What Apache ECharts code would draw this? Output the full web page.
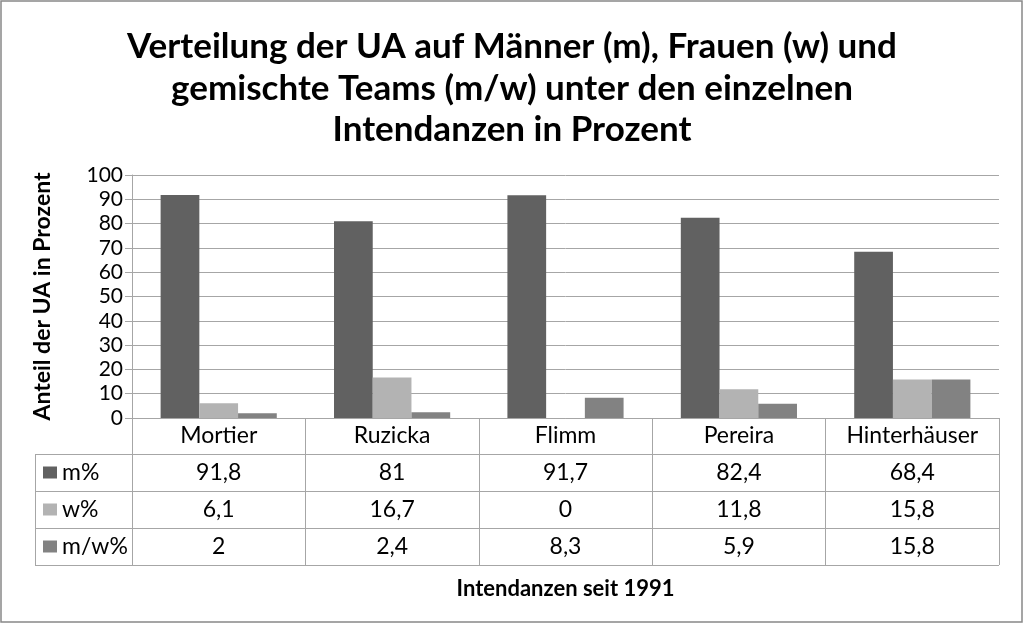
<!DOCTYPE html>
<html>
<head>
<meta charset="utf-8">
<script src="https://cdn.jsdelivr.net/npm/echarts@6/dist/echarts.min.js"></script>
<style>
  html, body { margin: 0; padding: 0; background: #fff; }
  #main { width: 1024px; height: 624px; }
</style>
</head>
<body>
<div id="main"></div>
<script>
// Daten aus der Vorlage
var categories = ['Mortier', 'Ruzicka', 'Flimm', 'Pereira', 'Hinterhäuser'];
var seriesNames = ['m%', 'w%', 'm/w%'];
var mValues = [91.8, 81, 91.7, 82.4, 68.4];
var wValues = [6.1, 16.7, 0, 11.8, 15.8];
var mwValues = [2, 2.4, 8.3, 5.9, 15.8];
var yTicks = { min: 0, max: 100, interval: 10 };

var colors = ['#616161', '#b3b3b3', '#828282'];
var lineColor = '#a6a6a6';
var font = 'Lato';
var rowH = 37;
var tableLeft = 35;

var myChart = echarts.init(document.getElementById('main'));

var allValues = [mValues, wValues, mwValues];

var option = {
    animation: false,
    textStyle: { fontFamily: font, color: '#000' },
    title: {
        text: 'Verteilung der UA auf Männer (m), Frauen (w) und\ngemischte Teams (m/w) unter den einzelnen\nIntendanzen in Prozent',
        left: 'center',
        top: 21,
        textStyle: { fontFamily: font, fontSize: 35, fontWeight: 'bold', lineHeight: 41.5, color: '#000' }
    },
    grid: { left: 132, right: 25, top: 175, bottom: 206 },
    xAxis: {
        type: 'category',
        data: categories,
        axisLine: { lineStyle: { color: lineColor } },
        axisTick: { show: true, length: 4 * rowH - 1, lineStyle: { color: lineColor } },
        axisLabel: { fontSize: 23, color: '#000', margin: 0, lineHeight: 36, fontFamily: font },
        name: 'Intendanzen seit 1991',
        nameLocation: 'middle',
        nameGap: 160,
        nameTextStyle: { fontSize: 22, fontWeight: 'bold', color: '#000', fontFamily: font }
    },
    yAxis: {
        type: 'value',
        min: yTicks.min,
        max: yTicks.max,
        interval: yTicks.interval,
        axisLine: { show: true, lineStyle: { color: lineColor } },
        axisTick: { show: true, length: 7, lineStyle: { color: lineColor } },
        splitLine: { lineStyle: { color: lineColor } },
        axisLabel: { fontSize: 21, color: '#000', margin: 9, fontFamily: font },
        name: 'Anteil der UA in Prozent',
        nameLocation: 'middle',
        nameGap: 78,
        nameTextStyle: { fontSize: 23, fontWeight: 'bold', color: '#000', fontFamily: font }
    },
    series: seriesNames.map(function (n, i) {
        return {
            name: n,
            type: 'bar',
            data: allValues[i],
            barGap: '0%',
            barCategoryGap: '33%',
            itemStyle: { color: colors[i] }
        };
    })
};

myChart.setOption(option);

// Datentabelle unter dem Diagramm
function fmt(v) {
    return String(v).replace('.', ',');
}

var x0 = myChart.convertToPixel({ xAxisIndex: 0 }, 0);
var x1 = myChart.convertToPixel({ xAxisIndex: 0 }, 1);
var colW = x1 - x0;
var plotRight = myChart.convertToPixel({ xAxisIndex: 0 }, categories.length - 1) + colW / 2;
var baseY = myChart.convertToPixel({ yAxisIndex: 0 }, 0);

var graphics = [];
// äußerer Rahmen
graphics.push({
    type: 'rect',
    shape: { x: 1, y: 1, width: 1021, height: 621 },
    style: { fill: 'none', stroke: '#888', lineWidth: 1.5 }
});
for (var r = 1; r <= 4; r++) {
    var y = Math.round(baseY + r * rowH - 1) + 0.5;
    graphics.push({
        type: 'line',
        shape: { x1: tableLeft, y1: y, x2: plotRight, y2: y },
        style: { stroke: lineColor, lineWidth: 1 }
    });
}
graphics.push({
    type: 'line',
    shape: { x1: tableLeft + 0.5, y1: baseY + rowH - 1, x2: tableLeft + 0.5, y2: baseY + 4 * rowH - 1 },
    style: { stroke: lineColor, lineWidth: 1 }
});
seriesNames.forEach(function (n, i) {
    var cy = baseY + (i + 1.5) * rowH - 1;
    graphics.push({
        type: 'rect',
        shape: { x: tableLeft + 8, y: cy - 6, width: 14, height: 12 },
        style: { fill: colors[i] }
    });
    graphics.push({
        type: 'text',
        x: tableLeft + 27,
        y: cy,
        style: { text: n, fontSize: 23, fontFamily: font, fill: '#000', verticalAlign: 'middle', align: 'left' }
    });
    allValues[i].forEach(function (v, j) {
        graphics.push({
            type: 'text',
            x: myChart.convertToPixel({ xAxisIndex: 0 }, j),
            y: cy,
            style: { text: fmt(v), fontSize: 23, fontFamily: font, fill: '#000', verticalAlign: 'middle', align: 'center' }
        });
    });
});

myChart.setOption({ graphic: graphics });
</script>
</body>
</html>
